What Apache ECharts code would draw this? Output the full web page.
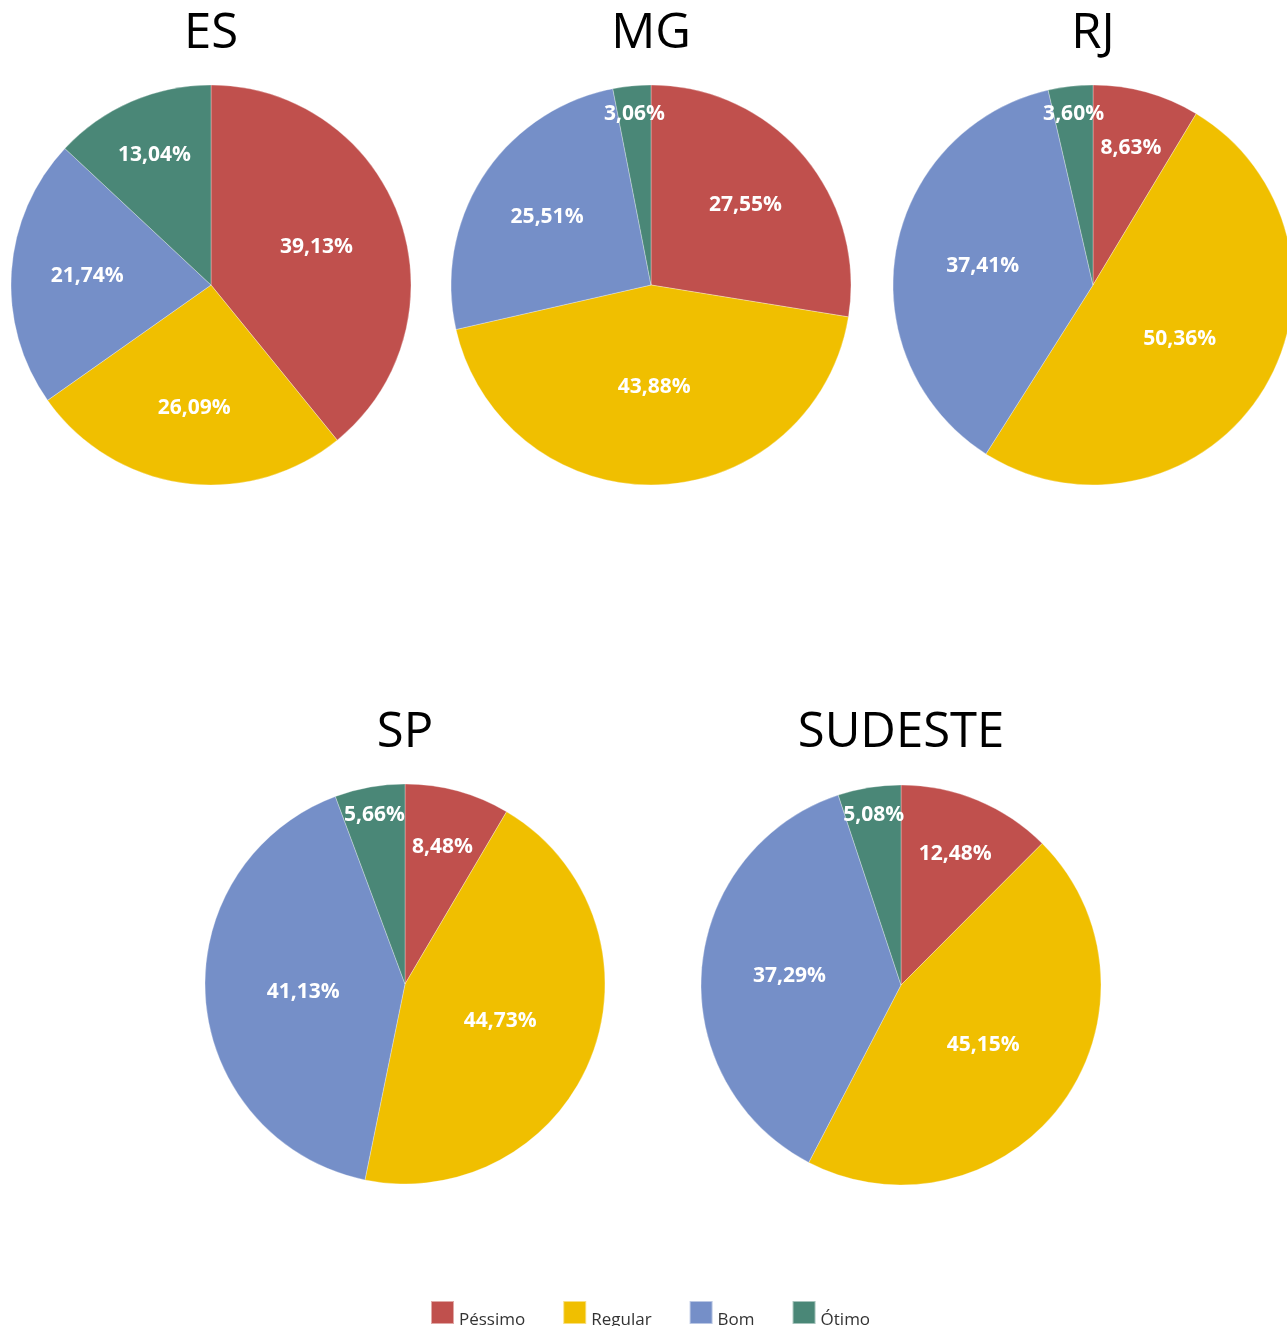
<!DOCTYPE html>
<html>
<head>
<meta charset="utf-8">
<script src="https://cdn.jsdelivr.net/npm/echarts@6/dist/echarts.min.js"></script>
<style>
  html, body { margin: 0; padding: 0; background: #fff; }
  #chart { width: 1287px; height: 1326px; }
</style>
</head>
<body>
<div id="chart"></div>
<script>
const categories = ['Péssimo', 'Regular', 'Bom', 'Ótimo']
const regions = ['ES', 'MG', 'RJ', 'SP', 'SUDESTE']
const esValues = [39.13, 26.09, 21.74, 13.04]
const mgValues = [27.55, 43.88, 25.51, 3.06]
const rjValues = [8.63, 50.36, 37.41, 3.60]
const spValues = [8.48, 44.73, 41.13, 5.66]
const sudesteValues = [12.48, 45.15, 37.29, 5.08]
const allValues = [esValues, mgValues, rjValues, spValues, sudesteValues]

const colors = ['#C0504D', '#F0BF00', '#758FC8', '#4A8777']
// pie centres (px) and title rows
const centers = [[211, 285], [651, 285], [1093, 285], [405, 984], [901, 985]]
const titleTops = [10, 10, 10, 709, 709]
const radius = 200

const chart = echarts.init(document.getElementById('chart'))

const fmt = v => v.toFixed(2).replace('.', ',') + '%'

// push labels outward like the original (small slices sit nearer the rim)
const labelDist = frac => {
  if (frac >= 0.4) return 0.51
  if (frac >= 0.3) return 0.56
  if (frac >= 0.2) return 0.62
  if (frac >= 0.07) return 0.71
  return 0.86
}

const series = allValues.map((vals, si) => {
  const total = vals.reduce((a, b) => a + b, 0)
  return {
    type: 'pie',
    name: regions[si],
    center: centers[si],
    radius: [0, radius],
    startAngle: 90,
    clockwise: true,
    animation: false,
    silent: true,
    itemStyle: { borderColor: 'rgba(255,255,255,0.5)', borderWidth: 0.6 },
    label: {
      show: true,
      position: 'inside',
      color: '#fff',
      fontFamily: 'Open Sans',
      fontWeight: 'bold',
      fontSize: 21,
      formatter: p => fmt(p.value)
    },
    labelLine: { show: false },
    labelLayout: params => {
      const r = params.labelRect
      const cx = centers[si][0], cy = centers[si][1]
      const vx = r.x + r.width / 2 - cx
      const vy = r.y + r.height / 2 - cy
      const d = Math.sqrt(vx * vx + vy * vy) || 1
      const want = labelDist(vals[params.dataIndex] / total) * radius
      const k = want / d - 1
      return { dx: vx * k, dy: vy * k }
    },
    data: categories.map((c, i) => ({
      name: c,
      value: vals[i],
      itemStyle: { color: colors[i] }
    }))
  }
})

const option = {
  backgroundColor: '#fff',
  animation: false,
  title: regions.map((t, i) => ({
    text: t,
    left: centers[i][0],
    top: titleTops[i],
    textAlign: 'center',
    padding: 0,
    textStyle: {
      fontFamily: 'Open Sans',
      fontWeight: 'normal',
      fontSize: 49,
      color: '#000'
    }
  })),
  legend: {
    data: categories,
    left: 430,
    top: 1300,
    padding: 0,
    icon: 'rect',
    itemWidth: 23,
    itemHeight: 23,
    itemGap: 37,
    selectedMode: false,
    formatter: '{t|{name}}',
    textStyle: {
      rich: {
        t: {
          fontFamily: 'Open Sans',
          fontSize: 17,
          color: '#333',
          padding: [16, 0, 0, 0]
        }
      }
    }
  },
  series: series
}

chart.setOption(option)
</script>
</body>
</html>
